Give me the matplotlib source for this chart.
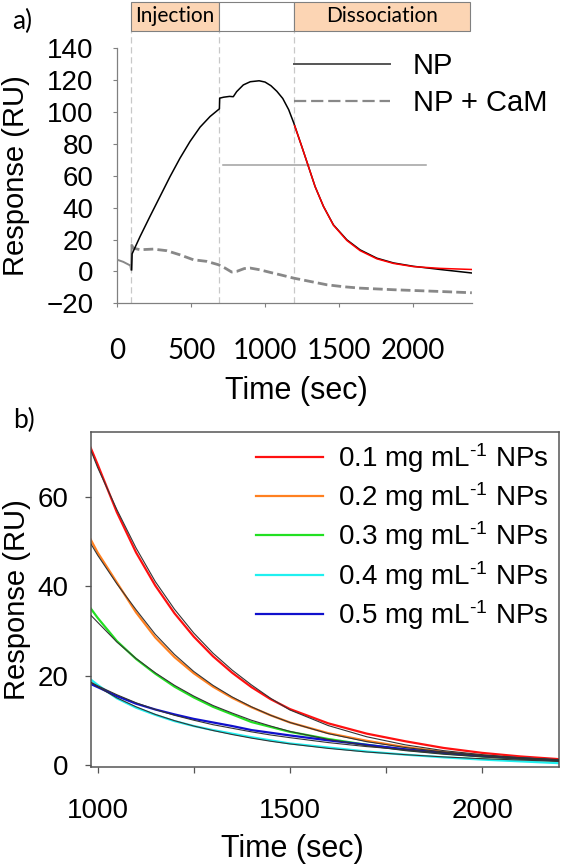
import numpy as np
import matplotlib
matplotlib.use("Agg")
import matplotlib.pyplot as plt
from matplotlib.patches import Rectangle
from matplotlib.lines import Line2D

plt.rcParams['font.family'] = ['Liberation Sans', 'DejaVu Sans']
plt.rcParams['mathtext.fontset'] = 'custom'
plt.rcParams['mathtext.rm'] = 'Liberation Sans'
plt.rcParams['mathtext.it'] = 'Liberation Sans:italic'

# ---------- panel a data ----------
base_t = [0, 40, 88, 93, 97]
base_y = [7.3, 6.0, 3.7, 1.0, 16.5]

np_t = [97, 100, 154, 221, 289, 357, 424, 492, 560, 628, 691, 693, 720, 760, 785,
        808, 853, 900, 960, 1000, 1040, 1080, 1120, 1160, 1195, 1249, 1294, 1339,
        1396, 1463, 1554, 1644, 1757, 1870, 2005, 2186, 2400]
np_y = [1.0, 11.0, 21.9, 34.5, 47.0, 59.5, 71.0, 81.5, 90.5, 97.2, 102.0, 108.7, 109.3,
        109.8, 109.6, 112.8, 117.0, 119.0, 119.6, 118.8, 116.5, 113.0, 108.5, 101.5,
        93.0, 78.3, 65.8, 53.2, 40.7, 29.2, 19.8, 13.5, 8.3, 5.3, 3.2, 1.2, -1.0]

cam_t = [97, 108, 154, 244, 334, 424, 515, 605, 684, 729, 774, 808, 860, 899, 966,
         1034, 1102, 1193, 1300, 1419, 1530, 1644, 1870, 2186, 2400]
cam_y = [16.5, 14.6, 13.6, 14.0, 13.0, 10.4, 7.3, 6.3, 4.2, 2.1, -0.4, 0.0, 1.8, 2.1,
         1.0, -0.6, -2.1, -4.2, -6.2, -8.4, -9.6, -10.5, -11.5, -12.6, -13.4]

fit_a_t = [1200, 1249, 1294, 1339, 1396, 1463, 1554, 1644, 1757, 1870, 2005, 2186, 2400]
fit_a_y = [91.5, 78.3, 65.8, 53.2, 40.7, 29.0, 19.4, 13.0, 7.9, 5.0, 3.0, 1.9, 1.2]

phase_marks = [90, 690, 1195]
phase_names = ["Injection", "", "Dissociation"]
phase_ends = [690, 1195, 2385]
ref_level = 67.0
ref_span = [714, 2092]

# ---------- panel b data (dissociation curves and fits) ----------
t_b = [982, 1000, 1050, 1100, 1150, 1200, 1250, 1300, 1350, 1400, 1450, 1500,
       1600, 1700, 1800, 1900, 2000, 2100, 2200]
conc_labels = ["0.1", "0.2", "0.3", "0.4", "0.5"]
colors_b = ["#ff1010", "#ff8020", "#22e022", "#20f0f0", "#1010cc"]
resp_b = [
    [71.0, 67.3, 56.6, 47.6, 40.2, 34.0, 28.8, 24.4, 20.7, 17.5, 14.8, 12.6, 9.4, 7.1, 5.4, 3.9, 2.8, 2.0, 1.4],
    [50.5, 47.6, 40.9, 34.2, 28.6, 24.2, 20.6, 17.6, 15.1, 13.0, 11.2, 9.6, 7.2, 5.5, 4.1, 3.0, 2.2, 1.6, 1.1],
    [35.1, 33.0, 27.8, 23.8, 20.5, 17.6, 15.2, 13.1, 11.4, 9.7, 8.6, 7.5, 5.9, 4.6, 3.5, 2.7, 2.0, 1.5, 1.0],
    [19.2, 18.0, 15.0, 12.9, 11.3, 9.9, 8.8, 7.9, 7.1, 6.3, 5.6, 4.9, 4.0, 3.1, 2.4, 1.8, 1.3, 0.9, 0.5],
    [18.2, 17.5, 15.5, 13.8, 12.5, 11.4, 10.4, 9.6, 8.8, 7.9, 7.3, 6.7, 5.6, 4.6, 3.6, 2.8, 2.1, 1.6, 1.1],
]
fit_b = [
    [70.5, 66.6, 57.2, 48.6, 41.1, 34.9, 29.6, 25.1, 21.3, 18.0, 15.0, 12.4, 8.9, 6.4, 4.6, 3.3, 2.4, 1.7, 1.2],
    [49.6, 47.0, 40.6, 34.8, 29.3, 24.8, 21.0, 17.9, 15.3, 13.1, 11.2, 9.6, 7.1, 5.3, 4.0, 3.0, 2.2, 1.6, 1.2],
    [33.6, 32.0, 27.6, 23.9, 20.7, 17.9, 15.5, 13.4, 11.7, 10.1, 8.8, 7.6, 5.8, 4.4, 3.3, 2.5, 1.9, 1.4, 1.1],
    [18.6, 17.6, 15.1, 13.1, 11.4, 10.0, 8.8, 7.8, 6.9, 6.1, 5.4, 4.8, 3.8, 3.0, 2.4, 1.9, 1.5, 1.2, 0.9],
    [18.6, 17.8, 15.8, 14.0, 12.5, 11.2, 10.1, 9.1, 8.3, 7.5, 6.8, 6.2, 5.1, 4.2, 3.5, 2.8, 2.2, 1.7, 1.3],
]

fig = plt.figure(figsize=(5.66, 8.68), dpi=100)

# ================= a) =================
ax1 = fig.add_axes([0.2073, 0.6506, 0.6263, 0.2938])
ax1.set_xlim(0, 2400)
ax1.set_ylim(-20, 140)

for xm in phase_marks:
    ax1.plot([xm, xm], [-20, 151], color="#c8c8c8", lw=0.9, ls=(0, (5, 3)), clip_on=False, zorder=1)
for xs, xe, name in zip(phase_marks, phase_ends, phase_names):
    fc = "#fcd5b4" if name else "white"
    ax1.add_patch(Rectangle((xs, 151), xe - xs, 18.3, facecolor=fc, edgecolor="#808080",
                            lw=0.8, clip_on=False, zorder=3))
    if name:
        ax1.text((xs + xe) / 2, 160.1, name, ha="center", va="center", fontsize=15,
                 family="Lato", clip_on=False, zorder=4)

ax1.plot(ref_span, [ref_level, ref_level], color="#a0a0a0", lw=1.1, zorder=2)
ax1.plot(base_t, base_y, color="#888888", lw=1.4, zorder=3)
ax1.plot(cam_t, cam_y, color="#888888", lw=2.0, ls=(0, (3.5, 1.5)), zorder=3)
ax1.plot(np_t, np_y, color="black", lw=1.1, zorder=4)
ax1.plot(fit_a_t, fit_a_y, color="red", lw=1.1, zorder=5)

h_np = Line2D([], [], color="#555555", lw=1.4)
h_cam = Line2D([], [], color="#888888", lw=1.6, ls=(0, (5.5, 2.2)))
ax1.legend([h_np, h_cam], ["NP", "NP + CaM"], loc="upper left", bbox_to_anchor=(0.497, 0.985),
           frameon=False, fontsize=21, handlelength=3.3, handletextpad=0.8,
           labelspacing=0.3, borderpad=0, borderaxespad=0)

for s in ["top", "right"]:
    ax1.spines[s].set_visible(False)
for s in ["left", "bottom"]:
    ax1.spines[s].set_color("#808080")
    ax1.spines[s].set_linewidth(0.9)
ax1.set_xticks([0, 500, 1000, 1500, 2000])
ax1.set_yticks(np.arange(-20, 141, 20))
ax1.tick_params(axis="both", direction="out", length=3, width=0.8, color="#808080")
ax1.tick_params(axis="y", labelsize=20, pad=14)
ax1.tick_params(axis="x", labelsize=20, pad=22, labelfontfamily="Lato")
ax1.set_xlabel("Time (sec)", fontsize=22, va="center")
ax1.xaxis.set_label_coords(0.505, -0.344)
ax1.set_ylabel("Response (RU)", fontsize=21, va="center")
ax1.yaxis.set_label_coords(-0.286, 0.5)
fig.text(22 / 566, 1 - 21 / 868, "a)", fontsize=19, family="Lato", ha="center", va="center")

# ================= b) =================
ax2 = fig.add_axes([0.1602, 0.1164, 0.8274, 0.3863])
ax2.set_xlim(982, 2200)
ax2.set_ylim(-0.35, 74.6)
for lab, col, ys in zip(conc_labels, colors_b, resp_b):
    ax2.plot(t_b, ys, color=col, lw=1.6, label=lab + " mg mL$^{\u20101}$ NPs", zorder=2)
for ys in fit_b:
    ax2.plot(t_b, ys, color="#333333", lw=0.8, zorder=3)

ax2.legend(loc="upper left", bbox_to_anchor=(0.353, 0.973), frameon=False, fontsize=20,
           handlelength=2.4, handletextpad=0.55, labelspacing=0.2, borderpad=0, borderaxespad=0)

for s in ax2.spines.values():
    s.set_color("#555555")
    s.set_linewidth(1.1)
ax2.set_xticks([1000, 1250, 1500, 1750, 2000])
ax2.set_xticklabels(["1000", "", "1500", "", "2000"])
ax2.set_yticks([0, 20, 40, 60])
ax2.tick_params(axis="both", direction="out", length=4, width=0.9, color="#555555", labelsize=20)
ax2.tick_params(axis="y", pad=12)
ax2.tick_params(axis="x", pad=18)
ax2.set_xlabel("Time (sec)", fontsize=22, va="center")
ax2.xaxis.set_label_coords(0.43, -0.245)
ax2.set_ylabel("Response (RU)", fontsize=21, va="center")
ax2.yaxis.set_label_coords(-0.157, 0.5)
fig.text(24 / 566, 1 - 420 / 868, "b)", fontsize=19, family="Lato", ha="center", va="center")

fig.savefig("out.png", dpi=100)
